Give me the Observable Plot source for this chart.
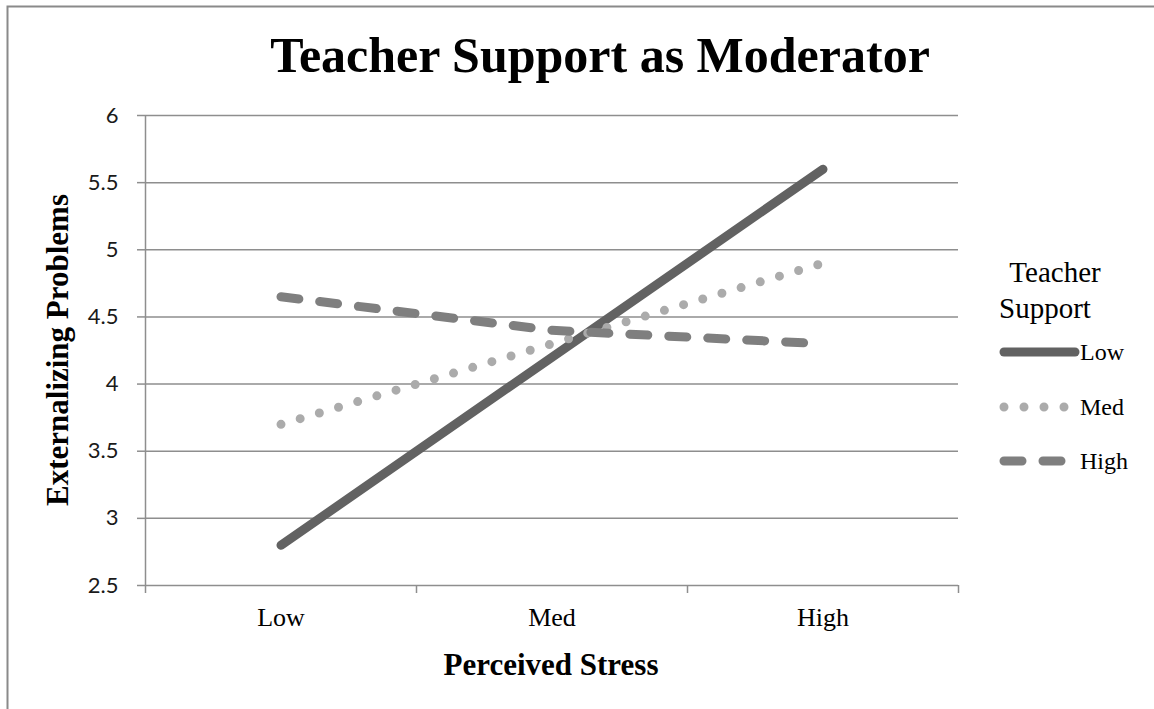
<!DOCTYPE html>
<html>
<head>
<meta charset="utf-8">
<script src="https://cdn.jsdelivr.net/npm/d3@7"></script>
<script src="https://cdn.jsdelivr.net/npm/@observablehq/plot@0.6"></script>
<style>
  html, body { margin: 0; padding: 0; background: #fff; }
  #chart { position: relative; width: 1154px; height: 709px; overflow: hidden; }
</style>
</head>
<body>
<div id="chart"></div>
<script>
// ---- data ----
const stressLevels = ["Low", "Med", "High"];
const supportLevels = ["Low", "Med", "High"];
const lowSupport = [2.8, 4.2, 5.6];
const medSupport = [3.7, 4.3, 4.9];
const highSupport = [4.65, 4.4, 4.3];
const yTicks = [2.5, 3, 3.5, 4, 4.5, 5, 5.5, 6];
const chartTitle = "Teacher Support as Moderator";
const xTitle = "Perceived Stress";
const yTitle = "Externalizing Problems";
const legendTitle = ["Teacher", "Support"];

// ---- table built from the arrays ----
const seriesValues = {Low: lowSupport, Med: medSupport, High: highSupport};
const rows = supportLevels.flatMap(s =>
  stressLevels.map((st, i) => ({support: s, stress: st, value: seriesValues[s][i]}))
);
const stressPos = d => stressLevels.indexOf(d.stress) + 0.5;

const seriesStyle = {
  Low:  {stroke: "#626262", strokeWidth: 9, strokeDasharray: null},
  Med:  {stroke: "#ababab", strokeWidth: 9, strokeDasharray: "0 20"},
  High: {stroke: "#7f7f7f", strokeWidth: 9, strokeDasharray: "18 21"}
};
const grid = "#8e8e8e";
const serif = "'Liberation Serif', 'Times New Roman', serif";

const plot = Plot.plot({
  width: 1154,
  height: 709,
  marginLeft: 145,
  marginRight: 196,
  marginTop: 115,
  marginBottom: 124,
  style: {background: "#fff", overflow: "visible"},
  x: {type: "linear", domain: [0, stressLevels.length]},
  y: {domain: [2.5, 6]},
  marks: [
    Plot.ruleY(yTicks, {stroke: grid, strokeWidth: 1.5}),
    Plot.ruleX([0], {y1: 2.5, y2: 6, stroke: grid, strokeWidth: 1.5}),
    Plot.axisY({ticks: yTicks, tickSize: 8, tickPadding: 19, stroke: grid, strokeWidth: 1.5, fill: "#1a1a1a",
      fontSize: 22, fontFamily: "Lato, 'Open Sans', sans-serif", tickFormat: d => String(d), label: null}),
    Plot.axisX({ticks: d3.range(stressLevels.length + 1), tickSize: 8, stroke: grid, strokeWidth: 1.5,
      tickFormat: () => "", label: null}),
    Plot.axisX({ticks: stressLevels.map((_, i) => i + 0.5), tickSize: 0, tickPadding: 22, fill: "#000",
      fontSize: 26, fontFamily: serif, tickFormat: d => stressLevels[d - 0.5], label: null}),
    ...supportLevels.map(s => Plot.line(rows.filter(r => r.support === s), {
      x: stressPos, y: "value",
      stroke: seriesStyle[s].stroke,
      strokeWidth: seriesStyle[s].strokeWidth,
      strokeDasharray: seriesStyle[s].strokeDasharray,
      strokeLinecap: "round", strokeLinejoin: "round"
    }))
  ]
});

document.getElementById("chart").appendChild(plot);

const svg = d3.select(plot);
// outer chart border
svg.append("path").attr("d", "M7.5,709 V6.5 H1154").attr("fill", "none")
  .attr("stroke", "#8a8a8a").attr("stroke-width", 2);

// title
svg.append("text").text(chartTitle)
  .attr("x", 600).attr("y", 72).attr("text-anchor", "middle")
  .attr("font-family", serif).attr("font-weight", "bold").attr("font-size", 50).attr("fill", "#000");

// axis titles
svg.append("text").text(xTitle)
  .attr("x", 551).attr("y", 675).attr("text-anchor", "middle")
  .attr("font-family", serif).attr("font-weight", "bold").attr("font-size", 31).attr("fill", "#000");
svg.append("text").text(yTitle)
  .attr("transform", "translate(68,350) rotate(-90)").attr("text-anchor", "middle")
  .attr("font-family", serif).attr("font-weight", "bold").attr("font-size", 31).attr("fill", "#000");

// legend
const lg = svg.append("g");
lg.append("text").text(legendTitle[0]).attr("x", 1055).attr("y", 282).attr("text-anchor", "middle")
  .attr("font-family", serif).attr("font-size", 29).attr("fill", "#000");
lg.append("text").text(legendTitle[1]).attr("x", 1045).attr("y", 318).attr("text-anchor", "middle")
  .attr("font-family", serif).attr("font-size", 29).attr("fill", "#000");
const legendY = {Low: 352, Med: 407, High: 461};
supportLevels.forEach(s => {
  const st = seriesStyle[s];
  lg.append("line").attr("x1", 1004).attr("x2", 1075).attr("y1", legendY[s]).attr("y2", legendY[s])
    .attr("stroke", st.stroke).attr("stroke-width", st.strokeWidth)
    .attr("stroke-dasharray", st.strokeDasharray).attr("stroke-linecap", "round");
  lg.append("text").text(s).attr("x", 1080).attr("y", legendY[s] + 8).attr("text-anchor", "start")
    .attr("font-family", serif).attr("font-size", 24).attr("fill", "#000");
});
</script>
</body>
</html>
